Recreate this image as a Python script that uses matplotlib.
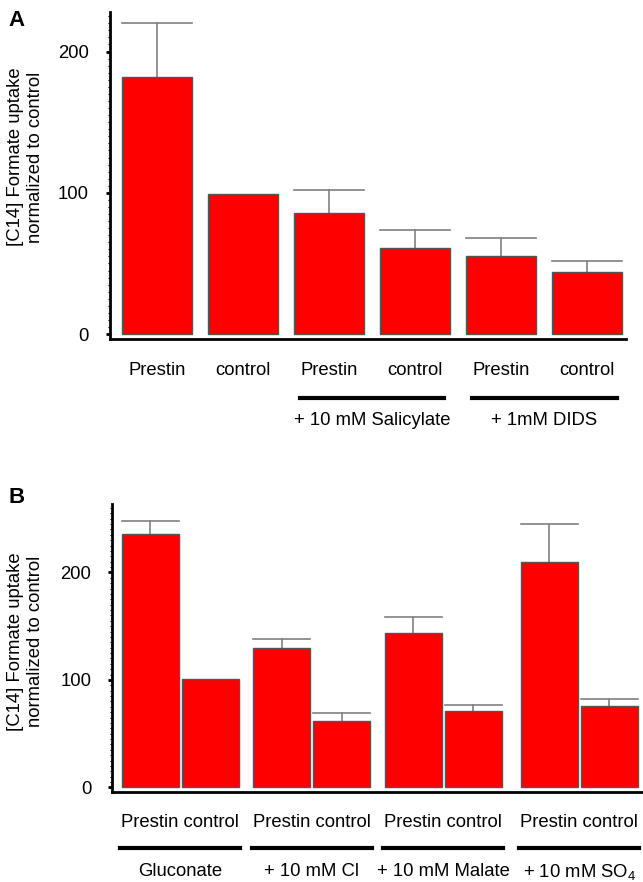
import numpy as np
import matplotlib
matplotlib.use('Agg')
import matplotlib.pyplot as plt
from matplotlib.ticker import MultipleLocator

plt.rcParams['font.family'] = ['Liberation Sans', 'DejaVu Sans']
plt.rcParams['mathtext.default'] = 'regular'

# Datos panel A
a_labels = ['Prestin', 'control', 'Prestin', 'control', 'Prestin', 'control']
a_values = [182, 99, 86, 61, 55, 44]
a_errors = [38, 0, 16, 13, 13, 8]
a_groups = ['+ 10 mM Salicylate', '+ 1mM DIDS']
a_group_pairs = [(2, 3), (4, 5)]

# Datos panel B
b_pair_label = 'Prestin control'
b_values = [236, 101, 130, 62, 144, 71, 210, 76]
b_errors = [12, 0, 8.5, 7, 14.5, 5.5, 35, 6.5]
b_groups = ['Gluconate', '+ 10 mM Cl', '+ 10 mM Malate', '+ 10 mM SO$_4$']

ylabel = '[C14] Formate uptake\nnormalized to control'

FS = 13.3
RED = '#ff0000'
EDGE = '#555555'
ERR = '#808080'

fig = plt.figure(figsize=(6.43, 8.82), dpi=100)
fig.patch.set_facecolor('white')


def estilo_ejes(ax):
    for s in ['top', 'right']:
        ax.spines[s].set_visible(False)
    ax.spines['left'].set_linewidth(2)
    ax.spines['bottom'].set_linewidth(2)
    ax.set_xticks([])
    ax.yaxis.set_major_locator(MultipleLocator(100))
    ax.yaxis.set_minor_locator(MultipleLocator(5))
    ax.tick_params(axis='y', which='major', length=3, width=2, pad=12, labelsize=FS)
    ax.tick_params(axis='y', which='minor', length=1.5, width=0.8)


def barras_con_error(ax, x, valores, errores, ancho):
    ax.bar(x, valores, width=ancho, color=RED, edgecolor=EDGE, linewidth=1, zorder=2)
    for xi, v, e in zip(x, valores, errores):
        if e > 0:
            ax.plot([xi, xi], [v, v + e], color=ERR, lw=1.2, zorder=1)
            ax.plot([xi - ancho / 2, xi + ancho / 2], [v + e, v + e], color=ERR, lw=1.2, zorder=1)


# =============================================
# PANEL A
# =============================================
ax1 = fig.add_axes([0.171, 0.6156, 0.8025, 0.3708])
xa = np.arange(len(a_values))
barras_con_error(ax1, xa, a_values, a_errors, 0.81)
ax1.set_xlim(-0.55, 5.45)
ax1.set_ylim(-3.5, 228)
estilo_ejes(ax1)

tr1 = ax1.get_xaxis_transform()
for xi, lab in zip(xa, a_labels):
    ax1.text(xi, -0.095, lab, transform=tr1, ha='center', va='center', fontsize=FS)
for (i, j), g in zip(a_group_pairs, a_groups):
    c = (xa[i] + xa[j]) / 2
    ax1.plot([c - 0.84, c + 0.84], [-0.180, -0.180], transform=tr1, color='black',
             lw=3, clip_on=False)
    ax1.text(c, -0.248, g, transform=tr1, ha='center', va='center', fontsize=FS)

# =============================================
# PANEL B
# =============================================
ax2 = fig.add_axes([0.1742, 0.1024, 0.8258, 0.3258])
inicio_grupo = np.array([0, 2.19, 4.38, 6.65])
xb = np.ravel(np.column_stack([inicio_grupo, inicio_grupo + 1]))
barras_con_error(ax2, xb, b_values, b_errors, 0.95)
ax2.set_xlim(-0.64, 8.21)
ax2.set_ylim(-3.9, 263.4)
estilo_ejes(ax2)

tr2 = ax2.get_xaxis_transform()
for k, g in enumerate(b_groups):
    c = (xb[2 * k] + xb[2 * k + 1]) / 2
    ax2.text(c, -0.108, b_pair_label, transform=tr2, ha='center', va='center', fontsize=FS)
    ax2.plot([c - 1.0, c + 1.0], [-0.197, -0.197], transform=tr2, color='black',
             lw=3, clip_on=False)
    ax2.text(c, -0.278, g, transform=tr2, ha='center', va='center', fontsize=FS)

# Etiquetas de eje y letras de panel
fig.text(0.040, 0.822, ylabel, rotation=90, ha='center', va='center',
         fontsize=FS, linespacing=1.2)
fig.text(0.040, 0.2725, ylabel, rotation=90, ha='center', va='center',
         fontsize=FS, linespacing=1.2)
fig.text(0.026, 0.977, 'A', fontsize=16, fontweight='bold', ha='center', va='center')
fig.text(0.025, 0.436, 'B', fontsize=16, fontweight='bold', ha='center', va='center')

plt.savefig('out.png', dpi=100, facecolor='white')
plt.close()
